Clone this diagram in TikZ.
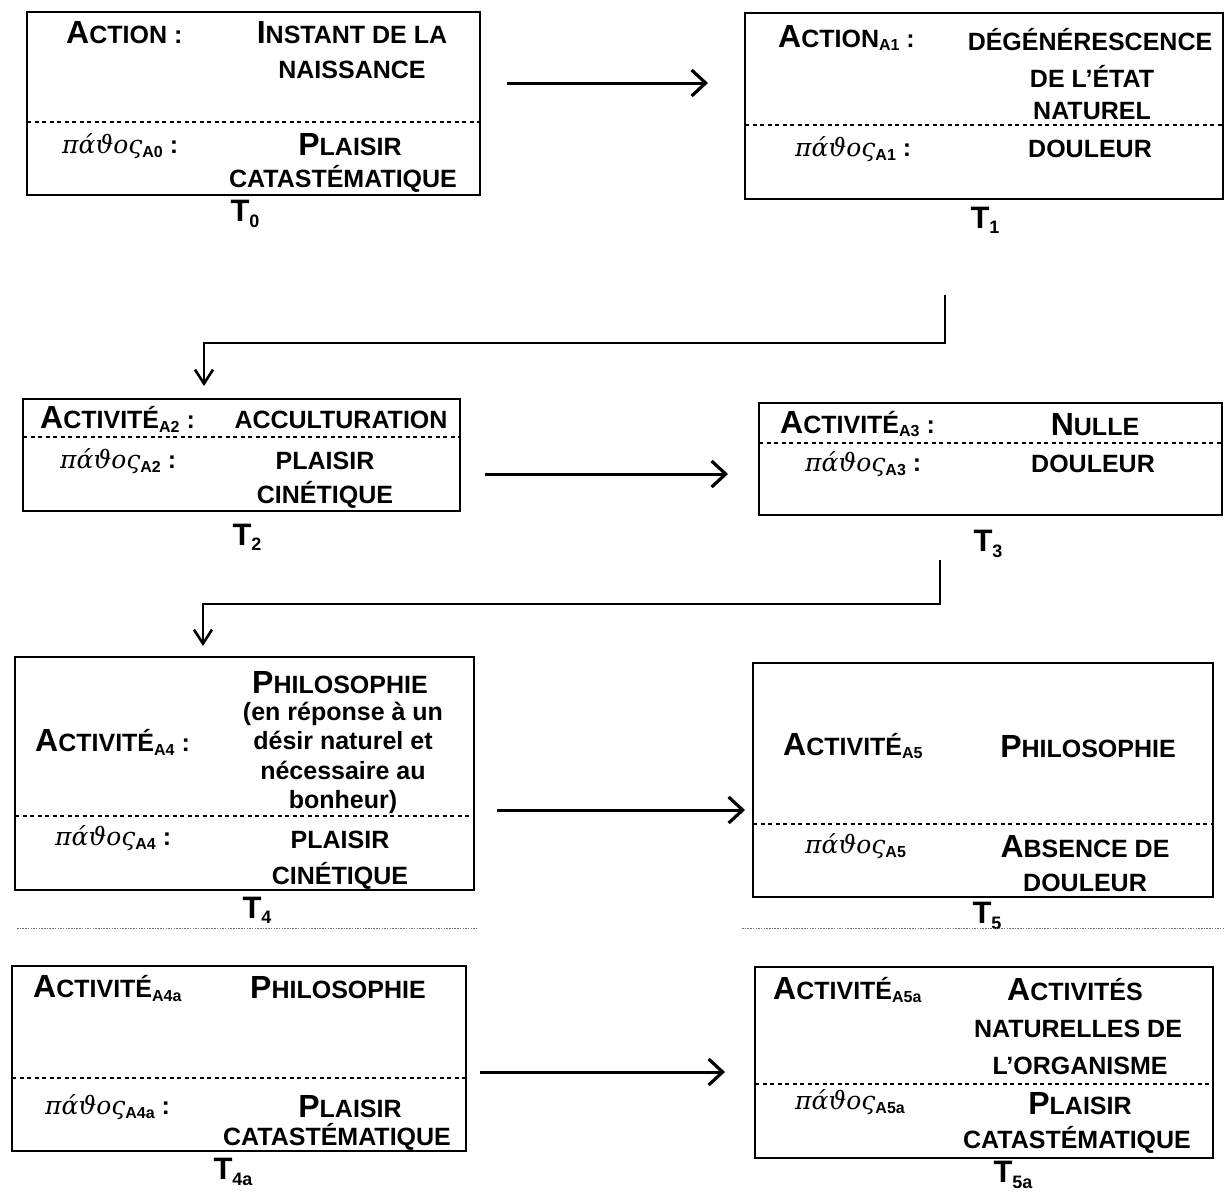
\documentclass[tikz,border=0pt]{standalone}
\usepackage{fontspec}
\setmainfont{Liberation Sans}
\newfontfamily\grkfont{DejaVu Serif}
\usetikzlibrary{arrows.meta}
\newcommand\bigi[1]{{\fontsize{32}{32}\selectfont #1}}
\newcommand\subi[1]{\raisebox{-0.3ex}{\fontsize{16}{16}\selectfont #1}}
\newcommand\pathos[1]{{\grkfont\itshape\mdseries πάϑος}\subi{#1}}
\newcommand\tlab[1]{{\fontsize{31}{31}\selectfont T}\raisebox{-0.4ex}{\fontsize{18}{18}\selectfont #1}}
\begin{document}
\begin{tikzpicture}[x=1pt,y=-1pt,
  box/.style={draw, line width=1.8pt, anchor=north west, inner sep=0pt, outer sep=0pt},
  sep/.style={line width=1.3pt, dash pattern=on 4pt off 3.5pt},
  dotsep/.style={line width=1pt, black!55, dash pattern=on 1.5pt off 1.2pt},
  txt/.style={font={\fontsize{25}{30}\selectfont\bfseries}, inner sep=0pt, align=center},
  lft/.style={txt, anchor=west},
  arr/.style={line width=3pt, -{Straight Barb[length=14pt,width=26pt,line width=3.2pt]}},
  elb/.style={line width=2.6pt, -{Straight Barb[length=14pt,width=18pt,line width=2.6pt]}}]
\fill[white] (0,0) rectangle (1225,1192);
\useasboundingbox (0,0) rectangle (1225,1192);

% ---------- T0
\node[box, minimum width=453, minimum height=183] (b0) at (27,12) {};
\draw[sep] (27,122) -- (480,122);
\node[lft] (l0a) at (66,33) {\bigi{A}CTION :};
\node[txt] (r0a) at (352,33) {\bigi{I}NSTANT DE LA};
\node[txt] (r0b) at (352,70) {NAISSANCE};
\node[lft] (l0b) at (62,146) {\pathos{A0} :};
\node[txt] (r0c) at (350,145) {\bigi{P}LAISIR};
\node[txt] (r0d) at (343,179) {CATASTÉMATIQUE};
\node[txt] (t0) at (245,214) {\tlab{0}};

% ---------- T1
\node[box, minimum width=478, minimum height=186] (b1) at (745,13) {};
\draw[sep] (745,125) -- (1223,125);
\node[lft] (l1a) at (778,38) {\bigi{A}CTION\subi{A1} :};
\node[txt] (r1a) at (1090,40) {DÉGÉNÉRESCENCE};
\node[txt] (r1b) at (1092,76) {DE L'ÉTAT};
\node[txt] (r1c) at (1092,111) {NATUREL};
\node[lft] (l1b) at (795,149) {\pathos{A1} :};
\node[txt] (r1d) at (1090,149) {DOULEUR};
\node[txt] (t1) at (985,220) {\tlab{1}};

% ---------- T2
\node[box, minimum width=437, minimum height=112] (b2) at (23,399) {};
\draw[sep] (23,437) -- (460,437);
\node[lft] (l2a) at (40,419) {\bigi{A}CTIVITÉ\subi{A2} :};
\node[txt] (r2a) at (341,420) {ACCULTURATION};
\node[lft] (l2b) at (60,461) {\pathos{A2} :};
\node[txt] (r2b) at (325,461) {PLAISIR};
\node[txt] (r2c) at (325,495) {CINÉTIQUE};
\node[txt] (t2) at (247,537) {\tlab{2}};

% ---------- T3
\node[box, minimum width=463, minimum height=112] (b3) at (759,403) {};
\draw[sep] (759,443) -- (1222,443);
\node[lft] (l3a) at (780,424) {\bigi{A}CTIVITÉ\subi{A3} :};
\node[txt] (r3a) at (1095,425) {\bigi{N}ULLE};
\node[lft] (l3b) at (805,464) {\pathos{A3} :};
\node[txt] (r3b) at (1093,464) {DOULEUR};
\node[txt] (t3) at (988,544) {\tlab{3}};

% ---------- T4
\node[box, minimum width=459, minimum height=233] (b4) at (15,657) {};
\draw[sep] (15,816) -- (474,816);
\node[lft] (l4a) at (35,742) {\bigi{A}CTIVITÉ\subi{A4} :};
\node[txt] (r4a) at (340,683) {\bigi{P}HILOSOPHIE};
\node[txt, font={\fontsize{25}{29.5}\selectfont\bfseries}] (r4b) at (343,758)
  {(en réponse à un\\désir naturel et\\nécessaire au\\bonheur)};
\node[lft] (l4b) at (55,838) {\pathos{A4} :};
\node[txt] (r4c) at (340,840) {PLAISIR};
\node[txt] (r4d) at (340,876) {CINÉTIQUE};
\node[txt] (t4) at (257,910) {\tlab{4}};
\draw[dotsep] (17,928) -- (477,928);

% ---------- T5
\node[box, minimum width=460, minimum height=234] (b5) at (753,663) {};
\draw[sep] (753,824) -- (1213,824);
\node[lft] (l5a) at (783,746) {\bigi{A}CTIVITÉ\subi{A5}};
\node[txt] (r5a) at (1088,747) {\bigi{P}HILOSOPHIE};
\node[lft] (l5b) at (805,846) {\pathos{A5}};
\node[txt] (r5b) at (1085,847) {\bigi{A}BSENCE DE};
\node[txt] (r5c) at (1085,883) {DOULEUR};
\node[txt] (t5) at (987,916) {\tlab{5}};
\draw[dotsep] (742,928) -- (1225,928);

% ---------- T4a
\node[box, minimum width=454, minimum height=185] (b4a) at (12,966) {};
\draw[sep] (12,1078) -- (466,1078);
\node[lft] (l6a) at (33,988) {\bigi{A}CTIVITÉ\subi{A4a}};
\node[txt] (r6a) at (338,988) {\bigi{P}HILOSOPHIE};
\node[lft] (l6b) at (45,1107) {\pathos{A4a} :};
\node[txt] (r6b) at (350,1107) {\bigi{P}LAISIR};
\node[txt] (r6c) at (337,1137) {CATASTÉMATIQUE};
\node[txt] (t6) at (233,1172) {\tlab{4a}};

% ---------- T5a
\node[box, minimum width=458, minimum height=191] (b5a) at (755,967) {};
\draw[sep] (755,1084) -- (1213,1084);
\node[lft] (l7a) at (773,990) {\bigi{A}CTIVITÉ\subi{A5a}};
\node[txt] (r7a) at (1075,990) {\bigi{A}CTIVITÉS};
\node[txt] (r7b) at (1078,1029) {NATURELLES DE};
\node[txt] (r7c) at (1080,1066) {L'ORGANISME};
\node[lft] (l7b) at (795,1102) {\pathos{A5a}};
\node[txt] (r7d) at (1080,1104) {\bigi{P}LAISIR};
\node[txt] (r7e) at (1077,1140) {CATASTÉMATIQUE};
\node[txt] (t7) at (1013,1175) {\tlab{5a}};

% ---------- connectors
\coordinate (a1s) at (507,83);  \coordinate (a1e) at (708,83);
\coordinate (a2s) at (485,474); \coordinate (a2e) at (728,474);
\coordinate (a3s) at (497,810); \coordinate (a3e) at (745,810);
\coordinate (a4s) at (480,1072);\coordinate (a4e) at (725,1072);
\draw[arr] (a1s) -- (a1e);
\draw[arr] (a2s) -- (a2e);
\draw[arr] (a3s) -- (a3e);
\draw[arr] (a4s) -- (a4e);

\coordinate (e1s) at (945,295); \coordinate (e1e) at (204,386);
\coordinate (e2s) at (940,560); \coordinate (e2e) at (203,646);
\draw[elb] (e1s) -- ++(0,48) -| (e1e);
\draw[elb] (e2s) -- ++(0,44) -| (e2e);
\end{tikzpicture}
\end{document}
